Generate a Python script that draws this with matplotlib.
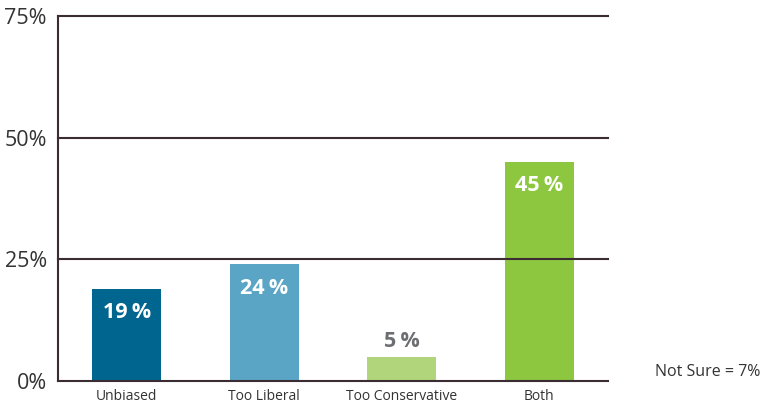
import matplotlib
matplotlib.use("Agg")
import matplotlib.pyplot as plt

categories = ["Unbiased", "Too Liberal", "Too Conservative", "Both"]
values = [19, 24, 5, 45]
bar_colors = ["#00668f", "#5aa5c6", "#b0d57a", "#8dc63f"]
yticks = [0, 25, 50, 75]
ytick_labels = ["0%", "25%", "50%", "75%"]
note = "Not Sure = 7%"

plt.rcParams['font.family'] = ['Open Sans', 'DejaVu Sans']
line_color = "#3b2b32"
text_color = "#333333"

fig = plt.figure(figsize=(7.64, 4.09), dpi=100)
ax = fig.add_axes([58/764, 28/409, 550/764, 365/409])

x = list(range(len(categories)))
bars = ax.bar(x, values, width=0.5, color=bar_colors, zorder=3)
ax.set_xlim(-0.5, 3.5)
ax.set_ylim(0, 75)

for yv in yticks:
    ax.axhline(yv, color=line_color, lw=1.5, zorder=4, clip_on=False)

for s in ["top", "right", "bottom"]:
    ax.spines[s].set_visible(False)
ax.spines["left"].set_color(line_color)
ax.spines["left"].set_linewidth(1.5)
ax.spines["left"].set_zorder(5)

ax.set_yticks(yticks)
ax.set_yticklabels(ytick_labels, fontsize=15.5, color=text_color)
ax.set_xticks(x)
ax.set_xticklabels(categories, fontsize=10, color=text_color)
ax.tick_params(axis="both", length=0)
ax.tick_params(axis="y", pad=8)
ax.tick_params(axis="x", pad=6)

for xi, v in zip(x, values):
    label = f"{v}\u2009%"
    if v >= 10:
        ax.text(xi, v - 4.9, label, ha="center", va="center", color="white",
                fontsize=15.5, fontweight="bold", zorder=6)
    else:
        ax.text(xi, v + 3.2, label, ha="center", va="center", color="#6d6e71",
                fontsize=15.5, fontweight="bold", zorder=6)

fig.text(708/764, 1 - 372/409, note, ha="center", va="center", fontsize=11.5, color=text_color)

fig.savefig("out.png", dpi=100)
